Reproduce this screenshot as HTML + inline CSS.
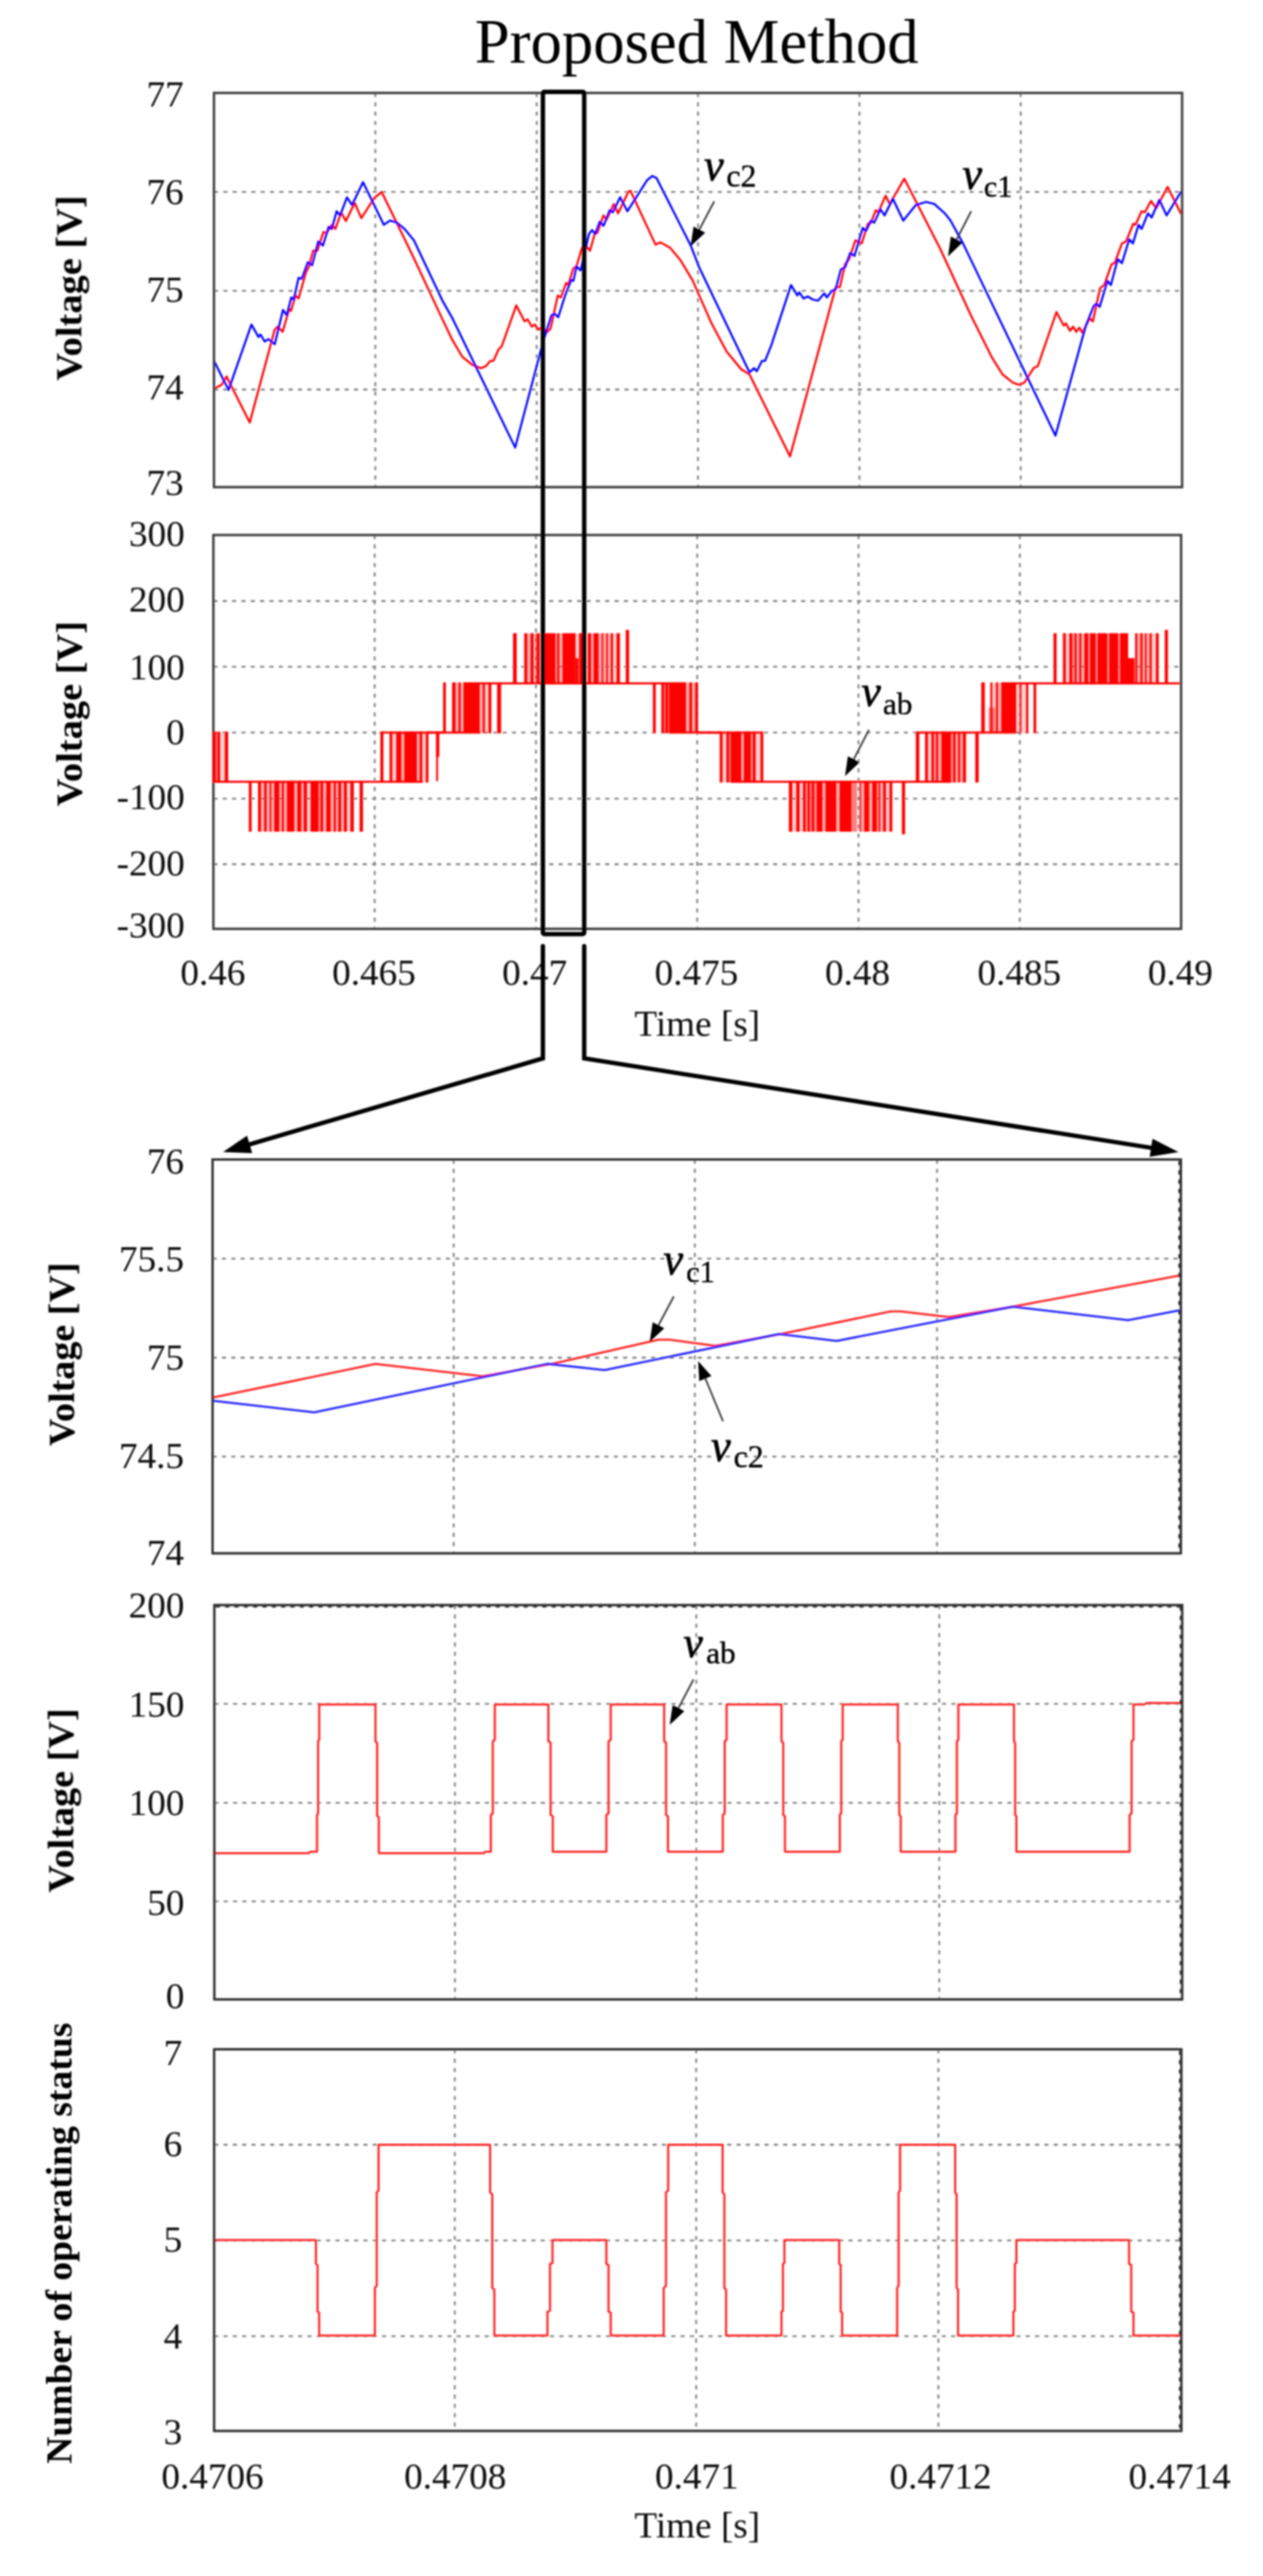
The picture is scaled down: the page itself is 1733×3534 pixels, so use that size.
<!DOCTYPE html>
<html lang="en">
<head>
<meta charset="utf-8">
<title>Proposed Method</title>
<style>
html,body{margin:0;padding:0;background:#fff;}
body{width:1733px;height:3534px;overflow:hidden;}
svg{display:block;font-family:"Liberation Serif",serif;}
</style>
</head>
<body>
<svg width="1733" height="3534" viewBox="0 0 1733 3534">
<defs><filter id="soft" x="0" y="0" width="1733" height="3534" filterUnits="userSpaceOnUse"><feGaussianBlur stdDeviation="1"/></filter></defs>
<rect width="1733" height="3534" fill="#fff"/>
<g filter="url(#soft)">
<text x="956" y="86" font-size="86" text-anchor="middle" font-weight="normal" font-style="normal" fill="#050505">Proposed Method</text>
<line x1="515" y1="127.5" x2="515" y2="668.3" stroke="#868686" stroke-width="2.6" stroke-dasharray="5.7 7.1"/>
<line x1="736.4" y1="127.5" x2="736.4" y2="668.3" stroke="#868686" stroke-width="2.6" stroke-dasharray="5.7 7.1"/>
<line x1="957.8" y1="127.5" x2="957.8" y2="668.3" stroke="#868686" stroke-width="2.6" stroke-dasharray="5.7 7.1"/>
<line x1="1179.2" y1="127.5" x2="1179.2" y2="668.3" stroke="#868686" stroke-width="2.6" stroke-dasharray="5.7 7.1"/>
<line x1="1400.6" y1="127.5" x2="1400.6" y2="668.3" stroke="#868686" stroke-width="2.6" stroke-dasharray="5.7 7.1"/>
<line x1="293.6" y1="263.3" x2="1622" y2="263.3" stroke="#868686" stroke-width="2.6" stroke-dasharray="5.7 7.1"/>
<line x1="293.6" y1="399" x2="1622" y2="399" stroke="#868686" stroke-width="2.6" stroke-dasharray="5.7 7.1"/>
<line x1="293.6" y1="534.4" x2="1622" y2="534.4" stroke="#868686" stroke-width="2.6" stroke-dasharray="5.7 7.1"/>
<clipPath id="c1"><rect x="293.6" y="127.5" width="1328.4" height="540.8"/></clipPath>
<polyline points="293.7,533.6 301.4,529.3 304.2,527.9 310.8,516.5 342.7,579.7 376.9,452.3 381.2,448.1 387.8,455.2 396.9,423.8 399.2,426.7 405.4,405.3 409.7,409.6 419.7,373.9 424,365.4 429.7,344 435.4,344 443.9,318.3 448.2,319.8 455.3,308.4 460.2,314.1 468.1,291.3 474.7,303.2 486.7,278.4 495.8,299.2 513.8,271.3 523.7,263.3 565.1,348.3 607.8,439.5 620,465.2 634.3,489.4 648.5,500.8 659.9,505.1 667,502.2 672.7,495.1 677,495.1 684.1,479.4 688.4,475.1 708.4,419 719.8,440.9 724,438.1 729.7,448.1 734,445.2 738.3,452.3 745.4,448.1 749.7,456.6 755.4,450.9 765.4,405.3 769.7,408.1 776.8,388.2 779.6,391 786.8,368.2 791,365.4 798.2,341.2 802.4,335.5 809.6,344 816.7,318.3 819.5,319.8 828.1,295.5 832.4,301.2 842.3,279.9 848.1,292.7 862.3,262.8 865.2,261.9 899.4,335.5 906.5,332.6 919.3,339.7 933.6,356.8 950.7,385.3 960,406.7 977.1,445.2 997.1,482.3 1017,506.5 1028.4,513.6 1084,626.2 1146.7,393.9 1152.4,393.9 1159.5,362.5 1165.2,355.4 1173.8,329.7 1182.3,334 1190.9,306.9 1195.2,305.5 1201.7,288.4 1205.2,291.3 1215.1,268.5 1220.8,279.9 1240.8,245.1 1290,341.2 1332.8,433.8 1361.3,490.8 1375.5,513.6 1389.8,525 1398.3,527.9 1405.5,525 1418.3,505.1 1424,502.2 1449.6,428.1 1459.6,446.6 1462.5,443.8 1468.2,453.8 1472.4,448.1 1476.7,455.2 1481,449.5 1485.3,456.6 1489.5,448.1 1495.2,436.6 1499.5,440.9 1509.5,395.3 1515.2,391 1525.2,362.5 1529.5,361.1 1539.4,334 1545.1,331.2 1555.1,306.9 1558,308.4 1566.5,289.8 1570.8,291.3 1579.3,275.6 1586.5,285.6 1602.1,256.5 1620.7,293.5" fill="none" stroke="#ff0000" stroke-width="2.8" stroke-linejoin="round" clip-path="url(#c1)"/>
<polyline points="293.7,495.1 313.6,535 345,445.2 354.7,462.3 357.5,458.9 363.2,468.6 368.4,465.2 376.9,472.3 388.3,425.2 393.5,432.4 399.7,408.1 403.1,411 409.7,381.1 414,382.5 422.5,359.7 428.2,364 436.8,331.2 443.1,336.9 451,311.2 455.3,314.1 461.9,289.8 466.7,295.5 476.1,270.7 483,281.3 498.1,249.9 526.6,308.4 535.1,302.7 543.7,304.9 555.1,314.1 567.9,329.7 607.8,413.8 620,435.2 706.9,614 745.4,468 756.8,432.4 761.1,430.4 766,435.2 775.4,405.3 783.9,383.9 786.8,385.3 791,365.4 796.7,371.1 808.1,321.2 812.4,315.5 816.7,321.2 823,304.1 828.1,309.8 836.6,288.4 840.9,291.3 850.9,270.7 860.9,289.8 888,247.1 895.1,241.4 900.8,244.2 947.8,336.9 960,368.2 1028.4,510.8 1034.7,505.1 1038.4,509.3 1045.5,495.1 1049.8,495.1 1058.3,473.7 1085.4,391 1094,405.3 1096.8,401 1102.5,409.6 1108.2,406.7 1115.4,411 1122.5,412.4 1131,402.4 1134.5,408.1 1141,399.6 1146.7,396.7 1153.8,369.7 1159.5,366.8 1166.7,346.9 1172.4,351.1 1183.8,312.6 1188.1,316.9 1195.2,302.7 1199.5,305.5 1208,287 1213.7,295.5 1225.1,272.7 1239.4,302.7 1256.5,281.3 1270.7,277 1282.1,279.9 1296.4,292.7 1304.3,302.7 1321.4,334 1448.2,597.7 1489.5,448.1 1500.9,419.5 1504.4,416.7 1508.9,421 1519.5,385.3 1524.3,391 1533.7,355.4 1539.4,361.1 1549.4,328.3 1554.5,334 1562.2,308.4 1566.5,314.1 1575.1,292.7 1580.2,298.4 1590.7,274.2 1600.7,295.5 1620.7,262.8" fill="none" stroke="#0000ff" stroke-width="2.8" stroke-linejoin="round" clip-path="url(#c1)"/>
<rect x="293.6" y="127.5" width="1328.4" height="540.8" fill="none" stroke="#3e3e3e" stroke-width="3.3"/>
<text x="252" y="146.3" font-size="51" text-anchor="end" font-weight="normal" font-style="normal" fill="#0c0c0c">77</text>
<text x="252" y="280.4" font-size="51" text-anchor="end" font-weight="normal" font-style="normal" fill="#0c0c0c">76</text>
<text x="252" y="413.9" font-size="51" text-anchor="end" font-weight="normal" font-style="normal" fill="#0c0c0c">75</text>
<text x="252" y="548.3" font-size="51" text-anchor="end" font-weight="normal" font-style="normal" fill="#0c0c0c">74</text>
<text x="252" y="679.2" font-size="51" text-anchor="end" font-weight="normal" font-style="normal" fill="#0c0c0c">73</text>
<text transform="translate(111.5,395) rotate(-90) scale(1.034,1)" font-size="51" text-anchor="middle" font-weight="bold" fill="#000">Voltage [V]</text>
<text x="966" y="247" font-size="61" text-anchor="start" font-weight="normal" font-style="italic" fill="#000" stroke="#000" stroke-width="0.9">v</text>
<text x="996.5" y="255.5" font-size="44" text-anchor="start" font-weight="normal" font-style="normal" fill="#000" stroke="#000" stroke-width="0.5">c2</text>
<line x1="980" y1="276.3" x2="959.6" y2="315" stroke="#2a2a2a" stroke-width="2.2"/>
<polygon points="947.5,338 951.7,310.8 967.6,319.2" fill="#000"/>
<text x="1320.5" y="259" font-size="61" text-anchor="start" font-weight="normal" font-style="italic" fill="#000" stroke="#000" stroke-width="0.9">v</text>
<text x="1350" y="269.8" font-size="41.5" text-anchor="start" font-weight="normal" font-style="normal" fill="#000" stroke="#000" stroke-width="0.5">c1</text>
<line x1="1332.6" y1="289.8" x2="1312.7" y2="328.6" stroke="#2a2a2a" stroke-width="2.2"/>
<polygon points="1300.8,351.7 1304.7,324.5 1320.7,332.7" fill="#000"/>
<line x1="514.1" y1="734" x2="514.1" y2="1274.3" stroke="#868686" stroke-width="2.6" stroke-dasharray="5.7 7.1"/>
<line x1="735.4" y1="734" x2="735.4" y2="1274.3" stroke="#868686" stroke-width="2.6" stroke-dasharray="5.7 7.1"/>
<line x1="956.7" y1="734" x2="956.7" y2="1274.3" stroke="#868686" stroke-width="2.6" stroke-dasharray="5.7 7.1"/>
<line x1="1178" y1="734" x2="1178" y2="1274.3" stroke="#868686" stroke-width="2.6" stroke-dasharray="5.7 7.1"/>
<line x1="1399.3" y1="734" x2="1399.3" y2="1274.3" stroke="#868686" stroke-width="2.6" stroke-dasharray="5.7 7.1"/>
<line x1="292.8" y1="824.6" x2="1620.6" y2="824.6" stroke="#868686" stroke-width="2.6" stroke-dasharray="5.7 7.1"/>
<line x1="292.8" y1="914.8" x2="1620.6" y2="914.8" stroke="#868686" stroke-width="2.6" stroke-dasharray="5.7 7.1"/>
<line x1="292.8" y1="1005" x2="1620.6" y2="1005" stroke="#868686" stroke-width="2.6" stroke-dasharray="5.7 7.1"/>
<line x1="292.8" y1="1095.8" x2="1620.6" y2="1095.8" stroke="#868686" stroke-width="2.6" stroke-dasharray="5.7 7.1"/>
<line x1="292.8" y1="1185.6" x2="1620.6" y2="1185.6" stroke="#868686" stroke-width="2.6" stroke-dasharray="5.7 7.1"/>
<rect x="292.8" y="734" width="1327.8" height="540.3" fill="none" stroke="#3e3e3e" stroke-width="3.3"/>
<g fill="#ff0000"><rect x="291.6" y="1003.7" width="4.8" height="69.8"/><rect x="298.2" y="1003.7" width="3.8" height="69.8"/><rect x="308.4" y="1003.7" width="4.7" height="69.8"/><rect x="341.4" y="1071.2" width="3.9" height="69.8"/><rect x="354" y="1071.2" width="4" height="69.8"/><rect x="362.4" y="1071.2" width="3.5" height="69.8"/><rect x="369.9" y="1071.2" width="2.4" height="69.8"/><rect x="376.2" y="1071.2" width="7.1" height="69.8"/><rect x="386.5" y="1071.2" width="3.2" height="69.8"/><rect x="393.6" y="1071.2" width="10.3" height="69.8"/><rect x="407.9" y="1071.2" width="5.5" height="69.8"/><rect x="416.6" y="1071.2" width="4.7" height="69.8"/><rect x="426.1" y="1071.2" width="11.1" height="69.8"/><rect x="439.6" y="1071.2" width="3.9" height="69.8"/><rect x="447.5" y="1071.2" width="6.3" height="69.8"/><rect x="457.8" y="1071.2" width="3.1" height="69.8"/><rect x="464.1" y="1071.2" width="4" height="69.8"/><rect x="472" y="1071.2" width="4" height="69.8"/><rect x="480.7" y="1071.2" width="4.8" height="69.8"/><rect x="493.4" y="1071.2" width="4.7" height="69.8"/><rect x="521.9" y="1003.7" width="4.2" height="69.8"/><rect x="534.5" y="1003.7" width="3.8" height="69.8"/><rect x="543.5" y="1003.7" width="7.2" height="69.8"/><rect x="554.6" y="1003.7" width="17.4" height="69.8"/><rect x="575.7" y="1003.7" width="3.8" height="69.8"/><rect x="584.2" y="1003.7" width="3.7" height="69.8"/><rect x="608" y="936.2" width="3.8" height="69.8"/><rect x="620.3" y="936.2" width="4.8" height="69.8"/><rect x="629.1" y="936.2" width="3.1" height="69.8"/><rect x="635.9" y="936.2" width="22.4" height="69.8"/><rect x="662.3" y="936.2" width="3.2" height="69.8"/><rect x="670.2" y="936.2" width="4" height="69.8"/><rect x="682.1" y="936.2" width="5.5" height="69.8"/><rect x="703.9" y="868.7" width="5.1" height="69.8"/><rect x="719.3" y="868.7" width="4.3" height="69.8"/><rect x="728" y="868.7" width="4" height="69.8"/><rect x="735.9" y="868.7" width="4.8" height="69.8"/><rect x="747.8" y="868.7" width="14.2" height="69.8"/><rect x="764.4" y="868.7" width="3.2" height="69.8"/><rect x="771.6" y="868.7" width="18.2" height="69.8"/><rect x="794.5" y="868.7" width="4.8" height="69.8"/><rect x="806.4" y="868.7" width="4.7" height="69.8"/><rect x="814.3" y="868.7" width="7.1" height="69.8"/><rect x="825.4" y="868.7" width="2.4" height="69.8"/><rect x="831.7" y="868.7" width="2.4" height="69.8"/><rect x="838.1" y="868.7" width="3.1" height="69.8"/><rect x="846" y="868.7" width="4.7" height="69.8"/><rect x="895.8" y="936.2" width="4" height="69.8"/><rect x="907.4" y="936.2" width="4" height="69.8"/><rect x="912.9" y="936.2" width="4" height="69.8"/><rect x="918" y="936.2" width="23.5" height="69.8"/><rect x="945.7" y="936.2" width="4" height="69.8"/><rect x="953.8" y="936.2" width="4" height="69.8"/><rect x="987.5" y="1003.7" width="4" height="69.8"/><rect x="996.6" y="1003.7" width="4" height="69.8"/><rect x="1002.3" y="1003.7" width="14.9" height="69.8"/><rect x="1020.5" y="1003.7" width="10" height="69.8"/><rect x="1032.9" y="1003.7" width="4" height="69.8"/><rect x="1043.4" y="1003.7" width="4" height="69.8"/><rect x="1082.4" y="1071.2" width="4.7" height="69.8"/><rect x="1092.5" y="1071.2" width="4.7" height="69.8"/><rect x="1101.7" y="1071.2" width="3.9" height="69.8"/><rect x="1108" y="1071.2" width="3.5" height="69.8"/><rect x="1113.5" y="1071.2" width="4" height="69.8"/><rect x="1120.4" y="1071.2" width="8.2" height="69.8"/><rect x="1132.5" y="1071.2" width="15.1" height="69.8"/><rect x="1152" y="1071.2" width="16.2" height="69.8"/><rect x="1179.3" y="1071.2" width="2.3" height="69.8"/><rect x="1185.6" y="1071.2" width="7.1" height="69.8"/><rect x="1196.7" y="1071.2" width="6.3" height="69.8"/><rect x="1205.4" y="1071.2" width="2.4" height="69.8"/><rect x="1211.7" y="1071.2" width="4" height="69.8"/><rect x="1220.4" y="1071.2" width="4" height="69.8"/><rect x="1256.6" y="1003.7" width="4.8" height="69.8"/><rect x="1269.3" y="1003.7" width="4" height="69.8"/><rect x="1278" y="1003.7" width="3.5" height="69.8"/><rect x="1284.3" y="1003.7" width="3.2" height="69.8"/><rect x="1291.5" y="1003.7" width="13.4" height="69.8"/><rect x="1307.8" y="1003.7" width="3.5" height="69.8"/><rect x="1314.4" y="1003.7" width="3.2" height="69.8"/><rect x="1321.1" y="1003.7" width="4.4" height="69.8"/><rect x="1338.2" y="1003.7" width="4.7" height="69.8"/><rect x="1346.4" y="936.2" width="4.9" height="69.8"/><rect x="1358.8" y="936.2" width="2.8" height="69.8"/><rect x="1366.4" y="936.2" width="3.1" height="69.8"/><rect x="1373.8" y="936.2" width="20.6" height="69.8"/><rect x="1399.1" y="936.2" width="2.4" height="69.8"/><rect x="1407.9" y="936.2" width="3.1" height="69.8"/><rect x="1418.1" y="936.2" width="3.7" height="69.8"/><rect x="1445.5" y="868.7" width="4.3" height="69.8"/><rect x="1458.5" y="868.7" width="4" height="69.8"/><rect x="1467.2" y="868.7" width="4.3" height="69.8"/><rect x="1474.3" y="868.7" width="3.2" height="69.8"/><rect x="1480.7" y="868.7" width="3.1" height="69.8"/><rect x="1487.8" y="868.7" width="5.5" height="69.8"/><rect x="1495.5" y="868.7" width="8.1" height="69.8"/><rect x="1506" y="868.7" width="13.5" height="69.8"/><rect x="1522" y="868.7" width="12.5" height="69.8"/><rect x="1537" y="868.7" width="11" height="69.8"/><rect x="1557.5" y="868.7" width="3.1" height="69.8"/><rect x="1564.6" y="868.7" width="3.2" height="69.8"/><rect x="1570.9" y="868.7" width="2.4" height="69.8"/><rect x="1577.3" y="868.7" width="3.1" height="69.8"/><rect x="1586" y="868.7" width="3.9" height="69.8"/><rect x="598.2" y="1003.7" width="4.6" height="34.7"/><rect x="598.5" y="1036.1" width="2.6" height="35.6"/><rect x="858.6" y="864.2" width="4.6" height="74.3"/><rect x="789.7" y="902.9" width="4" height="35.6"/><rect x="1237.5" y="1071.2" width="4.4" height="73.4"/><rect x="1547.9" y="902.9" width="8.8" height="35.6"/><rect x="1598.2" y="864.2" width="4.4" height="74.3"/><rect x="296.4" y="1004" width="1.8" height="69.5" fill-opacity="0.42"/><rect x="302" y="1004" width="6.4" height="69.5" fill-opacity="0.18"/><rect x="358" y="1071.5" width="4.4" height="69.5" fill-opacity="0.3"/><rect x="365.9" y="1071.5" width="4" height="69.5" fill-opacity="0.3"/><rect x="372.3" y="1071.5" width="3.9" height="69.5" fill-opacity="0.3"/><rect x="383.3" y="1071.5" width="3.2" height="69.5" fill-opacity="0.3"/><rect x="389.7" y="1071.5" width="3.9" height="69.5" fill-opacity="0.3"/><rect x="403.9" y="1071.5" width="4" height="69.5" fill-opacity="0.3"/><rect x="413.4" y="1071.5" width="3.2" height="69.5" fill-opacity="0.3"/><rect x="421.3" y="1071.5" width="4.8" height="69.5" fill-opacity="0.18"/><rect x="437.2" y="1071.5" width="2.4" height="69.5" fill-opacity="0.42"/><rect x="443.5" y="1071.5" width="4" height="69.5" fill-opacity="0.3"/><rect x="453.8" y="1071.5" width="4" height="69.5" fill-opacity="0.3"/><rect x="460.9" y="1071.5" width="3.2" height="69.5" fill-opacity="0.3"/><rect x="468.1" y="1071.5" width="3.9" height="69.5" fill-opacity="0.3"/><rect x="476" y="1071.5" width="4.7" height="69.5" fill-opacity="0.18"/><rect x="538.3" y="1004" width="5.2" height="69.5" fill-opacity="0.18"/><rect x="550.7" y="1004" width="3.9" height="69.5" fill-opacity="0.3"/><rect x="572" y="1004" width="3.7" height="69.5" fill-opacity="0.3"/><rect x="579.5" y="1004" width="4.7" height="69.5" fill-opacity="0.18"/><rect x="625.1" y="936.5" width="4" height="69.5" fill-opacity="0.3"/><rect x="632.2" y="936.5" width="3.7" height="69.5" fill-opacity="0.3"/><rect x="658.3" y="936.5" width="4" height="69.5" fill-opacity="0.3"/><rect x="665.5" y="936.5" width="4.7" height="69.5" fill-opacity="0.18"/><rect x="723.6" y="869" width="4.4" height="69.5" fill-opacity="0.3"/><rect x="732" y="869" width="3.9" height="69.5" fill-opacity="0.3"/><rect x="762" y="869" width="2.4" height="69.5" fill-opacity="0.42"/><rect x="767.6" y="869" width="4" height="69.5" fill-opacity="0.3"/><rect x="789.8" y="869" width="4.7" height="69.5" fill-opacity="0.18"/><rect x="811.1" y="869" width="3.2" height="69.5" fill-opacity="0.3"/><rect x="821.4" y="869" width="4" height="69.5" fill-opacity="0.3"/><rect x="827.8" y="869" width="3.9" height="69.5" fill-opacity="0.3"/><rect x="834.1" y="869" width="4" height="69.5" fill-opacity="0.3"/><rect x="841.2" y="869" width="4.8" height="69.5" fill-opacity="0.18"/><rect x="911.4" y="936.5" width="1.5" height="69.5" fill-opacity="0.42"/><rect x="916.9" y="936.5" width="1.1" height="69.5" fill-opacity="0.42"/><rect x="941.5" y="936.5" width="4.2" height="69.5" fill-opacity="0.3"/><rect x="949.7" y="936.5" width="4.1" height="69.5" fill-opacity="0.3"/><rect x="991.5" y="1004" width="5.1" height="69.5" fill-opacity="0.18"/><rect x="1000.6" y="1004" width="1.7" height="69.5" fill-opacity="0.42"/><rect x="1017.2" y="1004" width="3.3" height="69.5" fill-opacity="0.3"/><rect x="1030.5" y="1004" width="2.4" height="69.5" fill-opacity="0.42"/><rect x="1036.9" y="1004" width="6.5" height="69.5" fill-opacity="0.18"/><rect x="1087.1" y="1071.5" width="5.4" height="69.5" fill-opacity="0.18"/><rect x="1097.2" y="1071.5" width="4.5" height="69.5" fill-opacity="0.18"/><rect x="1105.6" y="1071.5" width="2.4" height="69.5" fill-opacity="0.42"/><rect x="1111.5" y="1071.5" width="2" height="69.5" fill-opacity="0.42"/><rect x="1117.5" y="1071.5" width="2.9" height="69.5" fill-opacity="0.42"/><rect x="1128.6" y="1071.5" width="3.9" height="69.5" fill-opacity="0.3"/><rect x="1147.6" y="1071.5" width="4.4" height="69.5" fill-opacity="0.3"/><rect x="1181.6" y="1071.5" width="4" height="69.5" fill-opacity="0.3"/><rect x="1192.7" y="1071.5" width="4" height="69.5" fill-opacity="0.3"/><rect x="1203" y="1071.5" width="2.4" height="69.5" fill-opacity="0.42"/><rect x="1207.8" y="1071.5" width="3.9" height="69.5" fill-opacity="0.3"/><rect x="1215.7" y="1071.5" width="4.7" height="69.5" fill-opacity="0.18"/><rect x="1273.3" y="1004" width="4.7" height="69.5" fill-opacity="0.18"/><rect x="1281.5" y="1004" width="2.8" height="69.5" fill-opacity="0.42"/><rect x="1287.5" y="1004" width="4" height="69.5" fill-opacity="0.3"/><rect x="1304.9" y="1004" width="2.9" height="69.5" fill-opacity="0.42"/><rect x="1311.3" y="1004" width="3.1" height="69.5" fill-opacity="0.3"/><rect x="1317.6" y="1004" width="3.5" height="69.5" fill-opacity="0.3"/><rect x="1361.6" y="936.5" width="4.8" height="69.5" fill-opacity="0.18"/><rect x="1369.5" y="936.5" width="4.3" height="69.5" fill-opacity="0.3"/><rect x="1394.4" y="936.5" width="4.7" height="69.5" fill-opacity="0.18"/><rect x="1401.5" y="936.5" width="6.4" height="69.5" fill-opacity="0.18"/><rect x="1462.5" y="869" width="4.7" height="69.5" fill-opacity="0.18"/><rect x="1471.5" y="869" width="2.8" height="69.5" fill-opacity="0.42"/><rect x="1477.5" y="869" width="3.2" height="69.5" fill-opacity="0.3"/><rect x="1483.8" y="869" width="4" height="69.5" fill-opacity="0.3"/><rect x="1493.3" y="869" width="2.2" height="69.5" fill-opacity="0.42"/><rect x="1503.6" y="869" width="2.4" height="69.5" fill-opacity="0.42"/><rect x="1519.5" y="869" width="2.5" height="69.5" fill-opacity="0.42"/><rect x="1534.5" y="869" width="2.5" height="69.5" fill-opacity="0.42"/><rect x="1560.6" y="869" width="4" height="69.5" fill-opacity="0.3"/><rect x="1567.8" y="869" width="3.1" height="69.5" fill-opacity="0.3"/><rect x="1573.3" y="869" width="4" height="69.5" fill-opacity="0.3"/><rect x="1580.4" y="869" width="5.6" height="69.5" fill-opacity="0.18"/><rect x="1168.2" y="1071.5" width="7.9" height="69.5" fill-opacity="0.5"/><rect x="1356.4" y="970.7" width="8.7" height="35.3" fill-opacity="0.45"/><rect x="292" y="1071.1" width="231" height="2.8"/><rect x="523" y="1071.1" width="57" height="2.8"/><rect x="521.5" y="1003.6" width="87.5" height="2.8"/><rect x="586" y="1003.6" width="73" height="2.8"/><rect x="636" y="936.1" width="52" height="2.8"/><rect x="686" y="936.1" width="255" height="2.8"/><rect x="918" y="1003.6" width="72" height="2.8"/><rect x="956" y="1003.6" width="90" height="2.8"/><rect x="1003" y="1071.1" width="255.5" height="2.8"/><rect x="1256.6" y="1071.1" width="48.4" height="2.8"/><rect x="1256.6" y="1003.6" width="91.9" height="2.8"/><rect x="1346.4" y="1003.6" width="48" height="2.8"/><rect x="1373.8" y="936.1" width="245.4" height="2.8"/></g>
<g fill="#fff" fill-opacity="0.55"></g>
<text x="253.6" y="748.7" font-size="51" text-anchor="end" font-weight="normal" font-style="normal" fill="#0c0c0c">300</text>
<text x="253.6" y="839" font-size="51" text-anchor="end" font-weight="normal" font-style="normal" fill="#0c0c0c">200</text>
<text x="253.6" y="932.1" font-size="51" text-anchor="end" font-weight="normal" font-style="normal" fill="#0c0c0c">100</text>
<text x="253.6" y="1020.7" font-size="51" text-anchor="end" font-weight="normal" font-style="normal" fill="#0c0c0c">0</text>
<text x="253.6" y="1110.2" font-size="51" text-anchor="end" font-weight="normal" font-style="normal" fill="#0c0c0c">-100</text>
<text x="253.6" y="1200.7" font-size="51" text-anchor="end" font-weight="normal" font-style="normal" fill="#0c0c0c">-200</text>
<text x="253.6" y="1285.8" font-size="51" text-anchor="end" font-weight="normal" font-style="normal" fill="#0c0c0c">-300</text>
<text transform="translate(112,979) rotate(-90) scale(1.034,1)" font-size="51" text-anchor="middle" font-weight="bold" fill="#000">Voltage [V]</text>
<text x="1182" y="968.4" font-size="60" text-anchor="start" font-weight="normal" font-style="italic" fill="#000" stroke="#000" stroke-width="0.9">v</text>
<text x="1211.5" y="979.7" font-size="43" text-anchor="start" font-weight="normal" font-style="normal" fill="#000" stroke="#000" stroke-width="0.5">ab</text>
<line x1="1192.3" y1="1001.2" x2="1171.4" y2="1041.7" stroke="#2a2a2a" stroke-width="2.2"/>
<polygon points="1159.5,1064.8 1163.4,1037.6 1179.4,1045.8" fill="#000"/>
<text x="292" y="1350.5" font-size="51" text-anchor="middle" font-weight="normal" font-style="normal" fill="#0c0c0c">0.46</text>
<text x="513" y="1350.5" font-size="51" text-anchor="middle" font-weight="normal" font-style="normal" fill="#0c0c0c">0.465</text>
<text x="733.5" y="1350.5" font-size="51" text-anchor="middle" font-weight="normal" font-style="normal" fill="#0c0c0c">0.47</text>
<text x="955.5" y="1350.5" font-size="51" text-anchor="middle" font-weight="normal" font-style="normal" fill="#0c0c0c">0.475</text>
<text x="1176.5" y="1350.5" font-size="51" text-anchor="middle" font-weight="normal" font-style="normal" fill="#0c0c0c">0.48</text>
<text x="1398.5" y="1350.5" font-size="51" text-anchor="middle" font-weight="normal" font-style="normal" fill="#0c0c0c">0.485</text>
<text x="1619.5" y="1350.5" font-size="51" text-anchor="middle" font-weight="normal" font-style="normal" fill="#0c0c0c">0.49</text>
<text x="956.8" y="1421" font-size="51" text-anchor="middle" font-weight="normal" font-style="normal" fill="#0c0c0c">Time [s]</text>
<rect x="744.9" y="126" width="56.7" height="1155.5" rx="2" fill="none" stroke="#000" stroke-width="6"/>
<polyline points="744.9,1298 744.9,1452 330,1573.6" fill="none" stroke="#000" stroke-width="6" stroke-linejoin="miter" stroke-linecap="round"/>
<polyline points="801.6,1298 801.6,1452 1592,1576.6" fill="none" stroke="#000" stroke-width="6" stroke-linejoin="miter" stroke-linecap="round"/>
<polygon points="306,1580.6 339,1557.9 346,1581.9" fill="#000"/>
<polygon points="1617,1580.6 1577.5,1587 1581.4,1562.3" fill="#000"/>
<line x1="622.5" y1="1590.7" x2="622.5" y2="2131" stroke="#868686" stroke-width="2.6" stroke-dasharray="5.7 7.1"/>
<line x1="953.4" y1="1590.7" x2="953.4" y2="2131" stroke="#868686" stroke-width="2.6" stroke-dasharray="5.7 7.1"/>
<line x1="1285.8" y1="1590.7" x2="1285.8" y2="2131" stroke="#868686" stroke-width="2.6" stroke-dasharray="5.7 7.1"/>
<line x1="291.7" y1="1726.7" x2="1620.3" y2="1726.7" stroke="#868686" stroke-width="2.6" stroke-dasharray="5.7 7.1"/>
<line x1="291.7" y1="1862.6" x2="1620.3" y2="1862.6" stroke="#868686" stroke-width="2.6" stroke-dasharray="5.7 7.1"/>
<line x1="291.7" y1="1998.2" x2="1620.3" y2="1998.2" stroke="#868686" stroke-width="2.6" stroke-dasharray="5.7 7.1"/>
<polyline points="291.7,1917.4 515.2,1871.2 662,1888.2 759.7,1870.6 903.7,1837.9 918.9,1837.9 981.6,1846.3 1074,1829.7 1222,1799.2 1236,1799.2 1302,1806.9 1389.8,1792.6 1618.4,1749.8" fill="none" stroke="#ff1e1e" stroke-width="2.8" stroke-linejoin="round"/>
<polyline points="291.7,1921.7 431.1,1937.6 751.2,1871 829.5,1879.7 1069,1830.1 1148.1,1839.6 1389.8,1792.6 1548,1811.1 1618.4,1797.7" fill="none" stroke="#1e1eff" stroke-width="2.8" stroke-linejoin="round"/>
<rect x="291.7" y="1590.7" width="1328.6" height="540.3" fill="none" stroke="#2a2a2a" stroke-width="3.2"/>
<line x1="1617.8" y1="1592.7" x2="1617.8" y2="2131" stroke="#1a1a1a" stroke-width="1.9" stroke-dasharray="5.7 7.1"/>
<text x="252.5" y="1610" font-size="51" text-anchor="end" font-weight="normal" font-style="normal" fill="#0c0c0c">76</text>
<text x="252.5" y="1744.3" font-size="51" text-anchor="end" font-weight="normal" font-style="normal" fill="#0c0c0c">75.5</text>
<text x="252.5" y="1878.8" font-size="51" text-anchor="end" font-weight="normal" font-style="normal" fill="#0c0c0c">75</text>
<text x="252.5" y="2013.5" font-size="51" text-anchor="end" font-weight="normal" font-style="normal" fill="#0c0c0c">74.5</text>
<text x="252.5" y="2146.6" font-size="51" text-anchor="end" font-weight="normal" font-style="normal" fill="#0c0c0c">74</text>
<text transform="translate(101.5,1857.8) rotate(-90) scale(1.025,1)" font-size="51" text-anchor="middle" font-weight="bold" fill="#000">Voltage [V]</text>
<text x="910.3" y="1748.4" font-size="61" text-anchor="start" font-weight="normal" font-style="italic" fill="#000" stroke="#000" stroke-width="0.9">v</text>
<text x="941.5" y="1758.8" font-size="41.5" text-anchor="start" font-weight="normal" font-style="normal" fill="#000" stroke="#000" stroke-width="0.5">c1</text>
<line x1="924.6" y1="1778.4" x2="903.6" y2="1818.1" stroke="#2a2a2a" stroke-width="2.2"/>
<polygon points="891.4,1841.1 895.6,1813.9 911.5,1822.3" fill="#000"/>
<text x="975.4" y="2004" font-size="61" text-anchor="start" font-weight="normal" font-style="italic" fill="#000" stroke="#000" stroke-width="0.9">v</text>
<text x="1006.5" y="2013.4" font-size="44" text-anchor="start" font-weight="normal" font-style="normal" fill="#000" stroke="#000" stroke-width="0.5">c2</text>
<line x1="992.1" y1="1949.8" x2="967.8" y2="1891.2" stroke="#2a2a2a" stroke-width="2.2"/>
<polygon points="957.9,1867.2 976.2,1887.8 959.5,1894.7" fill="#000"/>
<line x1="624.2" y1="2202" x2="624.2" y2="2743" stroke="#868686" stroke-width="2.6" stroke-dasharray="5.7 7.1"/>
<line x1="955.4" y1="2202" x2="955.4" y2="2743" stroke="#868686" stroke-width="2.6" stroke-dasharray="5.7 7.1"/>
<line x1="1288.8" y1="2202" x2="1288.8" y2="2743" stroke="#868686" stroke-width="2.6" stroke-dasharray="5.7 7.1"/>
<line x1="294.1" y1="2337.5" x2="1622.1" y2="2337.5" stroke="#868686" stroke-width="2.6" stroke-dasharray="5.7 7.1"/>
<line x1="294.1" y1="2473.3" x2="1622.1" y2="2473.3" stroke="#868686" stroke-width="2.6" stroke-dasharray="5.7 7.1"/>
<line x1="294.1" y1="2608.5" x2="1622.1" y2="2608.5" stroke="#868686" stroke-width="2.6" stroke-dasharray="5.7 7.1"/>
<polyline points="294.1,2542.3 424,2542.3 426,2540.3 435,2540.3 435,2489.8 436.5,2487.8 436.5,2388.8 438,2386.8 438,2338.3 515.2,2338.3 515.2,2389.3 517.5,2391.3 517.5,2491.3 519.8,2493.3 519.8,2542.3 664,2542.3 666,2540.3 673.5,2540.3 673.5,2489.8 676.2,2487.8 676.2,2388.8 679,2386.8 679,2338.3 752.4,2338.3 752.4,2388.8 755.5,2390.8 755.5,2489.8 758.5,2491.8 758.5,2540.3 832,2540.3 832,2489.8 835,2487.8 835,2388.8 838,2386.8 838,2338.3 911.3,2338.3 911.3,2388.8 913.9,2390.8 913.9,2489.8 916.5,2491.8 916.5,2540.3 991.8,2540.3 991.8,2489.8 994.4,2487.8 994.4,2388.8 997,2386.8 997,2338.3 1072.3,2338.3 1072.3,2388.8 1074.7,2390.8 1074.7,2489.8 1077.1,2491.8 1077.1,2540.3 1152.3,2540.3 1152.3,2489.8 1154.3,2487.8 1154.3,2388.8 1156.3,2386.8 1156.3,2338.3 1231.9,2338.3 1231.9,2388.8 1233.9,2390.8 1233.9,2489.8 1235.9,2491.8 1235.9,2540.3 1311,2540.3 1311,2489.8 1313,2487.8 1313,2388.8 1315,2386.8 1315,2338.3 1391.3,2338.3 1391.3,2388.8 1392.9,2390.8 1392.9,2489.8 1394.6,2491.8 1394.6,2540.3 1550,2540.3 1550,2489.8 1552.7,2487.8 1552.7,2388.8 1555.3,2386.8 1555.3,2338.3 1570,2338.3 1574,2336.3 1622.1,2336.3" fill="none" stroke="#ff1e1e" stroke-width="2.8" stroke-linejoin="round"/>
<rect x="294.1" y="2202" width="1328" height="541" fill="none" stroke="#2a2a2a" stroke-width="3.2"/>
<line x1="296.1" y1="2204.2" x2="1622.1" y2="2204.2" stroke="#1a1a1a" stroke-width="1.9" stroke-dasharray="5.7 7.1"/>
<line x1="1619.7" y1="2204" x2="1619.7" y2="2743" stroke="#1a1a1a" stroke-width="1.9" stroke-dasharray="5.7 7.1"/>
<text x="253" y="2218.7" font-size="51" text-anchor="end" font-weight="normal" font-style="normal" fill="#0c0c0c">200</text>
<text x="253" y="2354.8" font-size="51" text-anchor="end" font-weight="normal" font-style="normal" fill="#0c0c0c">150</text>
<text x="253" y="2489.9" font-size="51" text-anchor="end" font-weight="normal" font-style="normal" fill="#0c0c0c">100</text>
<text x="253" y="2627.2" font-size="51" text-anchor="end" font-weight="normal" font-style="normal" fill="#0c0c0c">50</text>
<text x="253" y="2754.9" font-size="51" text-anchor="end" font-weight="normal" font-style="normal" fill="#0c0c0c">0</text>
<text transform="translate(100.4,2470) rotate(-90) scale(1.028,1)" font-size="51" text-anchor="middle" font-weight="bold" fill="#000">Voltage [V]</text>
<text x="937.8" y="2273.2" font-size="60" text-anchor="start" font-weight="normal" font-style="italic" fill="#000" stroke="#000" stroke-width="0.9">v</text>
<text x="969" y="2282.2" font-size="43" text-anchor="start" font-weight="normal" font-style="normal" fill="#000" stroke="#000" stroke-width="0.5">ab</text>
<line x1="951.6" y1="2304.1" x2="931" y2="2343.3" stroke="#2a2a2a" stroke-width="2.2"/>
<polygon points="918.9,2366.3 923,2339.1 939,2347.5" fill="#000"/>
<line x1="624" y1="2811.4" x2="624" y2="3335" stroke="#868686" stroke-width="2.6" stroke-dasharray="5.7 7.1"/>
<line x1="955.2" y1="2811.4" x2="955.2" y2="3335" stroke="#868686" stroke-width="2.6" stroke-dasharray="5.7 7.1"/>
<line x1="1287.6" y1="2811.4" x2="1287.6" y2="3335" stroke="#868686" stroke-width="2.6" stroke-dasharray="5.7 7.1"/>
<line x1="293.8" y1="2942.4" x2="1621" y2="2942.4" stroke="#868686" stroke-width="2.6" stroke-dasharray="5.7 7.1"/>
<line x1="293.8" y1="3073.7" x2="1621" y2="3073.7" stroke="#868686" stroke-width="2.6" stroke-dasharray="5.7 7.1"/>
<line x1="293.8" y1="3205" x2="1621" y2="3205" stroke="#868686" stroke-width="2.6" stroke-dasharray="5.7 7.1"/>
<polyline points="293.8,3073.2 433.5,3073.2 433.5,3105.9 435.7,3107.2 435.7,3171.4 437.9,3172.7 437.9,3204.1 514.4,3204.1 514.4,3138.7 516.9,3136 516.9,3007.8 519.4,3005.1 519.4,2942.3 672.5,2942.3 672.5,3007.8 675.4,3010.4 675.4,3138.7 678.3,3141.3 678.3,3204.1 751.2,3204.1 751.2,3171.4 754.7,3170.1 754.7,3105.9 758.1,3104.6 758.1,3073.2 832,3073.2 832,3105.9 835,3107.2 835,3171.4 838,3172.7 838,3204.1 910.7,3204.1 910.7,3138.7 913.8,3136 913.8,3007.8 916.8,3005.1 916.8,2942.3 991.5,2942.3 991.5,3007.8 993.9,3010.4 993.9,3138.7 996.3,3141.3 996.3,3204.1 1072.3,3204.1 1072.3,3171.4 1074.3,3170.1 1074.3,3105.9 1076.3,3104.6 1076.3,3073.2 1151.5,3073.2 1151.5,3105.9 1153.5,3107.2 1153.5,3171.4 1155.5,3172.7 1155.5,3204.1 1231,3204.1 1231,3138.7 1233,3136 1233,3007.8 1235,3005.1 1235,2942.3 1310.6,2942.3 1310.6,3007.8 1312.6,3010.4 1312.6,3138.7 1314.6,3141.3 1314.6,3204.1 1390.5,3204.1 1390.5,3171.4 1392.5,3170.1 1392.5,3105.9 1394.6,3104.6 1394.6,3073.2 1549.2,3073.2 1549.2,3105.9 1552.2,3107.2 1552.2,3171.4 1555.3,3172.7 1555.3,3204.1 1621,3204.1" fill="none" stroke="#ff1e1e" stroke-width="2.8" stroke-linejoin="round"/>
<rect x="293.8" y="2811.4" width="1327.2" height="523.6" fill="none" stroke="#2a2a2a" stroke-width="3.2"/>
<line x1="1618.7" y1="2813.4" x2="1618.7" y2="3335" stroke="#1a1a1a" stroke-width="1.9" stroke-dasharray="5.7 7.1"/>
<text x="250" y="2832.8" font-size="51" text-anchor="end" font-weight="normal" font-style="normal" fill="#0c0c0c">7</text>
<text x="250" y="2958.1" font-size="51" text-anchor="end" font-weight="normal" font-style="normal" fill="#0c0c0c">6</text>
<text x="250" y="3088.5" font-size="51" text-anchor="end" font-weight="normal" font-style="normal" fill="#0c0c0c">5</text>
<text x="250" y="3221.8" font-size="51" text-anchor="end" font-weight="normal" font-style="normal" fill="#0c0c0c">4</text>
<text x="250" y="3353.2" font-size="51" text-anchor="end" font-weight="normal" font-style="normal" fill="#0c0c0c">3</text>
<text transform="translate(98,3077.5) rotate(-90) scale(1.012,1)" font-size="51" text-anchor="middle" font-weight="bold" fill="#000">Number of operating status</text>
<text x="291.5" y="3413.5" font-size="51" text-anchor="middle" font-weight="normal" font-style="normal" fill="#0c0c0c">0.4706</text>
<text x="624.5" y="3413.5" font-size="51" text-anchor="middle" font-weight="normal" font-style="normal" fill="#0c0c0c">0.4708</text>
<text x="956" y="3413.5" font-size="51" text-anchor="middle" font-weight="normal" font-style="normal" fill="#0c0c0c">0.471</text>
<text x="1290.5" y="3413.5" font-size="51" text-anchor="middle" font-weight="normal" font-style="normal" fill="#0c0c0c">0.4712</text>
<text x="1618.5" y="3413.5" font-size="51" text-anchor="middle" font-weight="normal" font-style="normal" fill="#0c0c0c">0.4714</text>
<text x="956.8" y="3480.5" font-size="51" text-anchor="middle" font-weight="normal" font-style="normal" fill="#0c0c0c">Time [s]</text>
</g>
</svg>
</body>
</html>
